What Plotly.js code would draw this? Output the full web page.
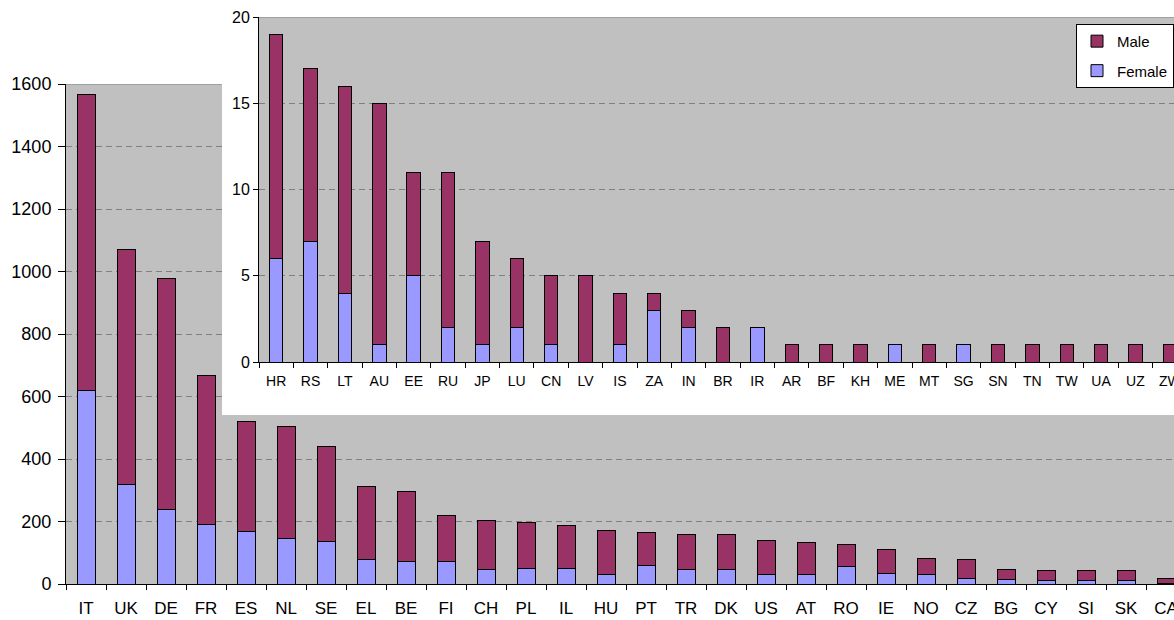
<!DOCTYPE html>
<html>
<head>
<meta charset="utf-8">
<script src="https://cdn.plot.ly/plotly-3.0.1.min.js"></script>
<style>
  html, body { margin: 0; padding: 0; overflow: hidden; background: #ffffff; width: 1174px; height: 620px; }
  #main { position: absolute; left: 0; top: 0; }
  #inset { position: absolute; left: 222px; top: 0; }
</style>
</head>
<body>
<div id="main"></div>
<div id="inset"></div>
<script>
// ---- Main chart data ----
const mainCats = ['IT','UK','DE','FR','ES','NL','SE','EL','BE','FI','CH','PL','IL','HU','PT','TR','DK','US','AT','RO','IE','NO','CZ','BG','CY','SI','SK','CA'];
const mainFemale = [619,320,237,190,167,147,136,78,73,73,46,51,51,30,60,46,46,30,30,57,35,30,18,15,10,10,10,3];
const mainMale = [946,751,740,477,353,358,305,233,224,145,157,146,136,141,106,114,114,109,104,69,74,53,60,31,32,32,32,15];
const mainTicks = [0,200,400,600,800,1000,1200,1400,1600];

// ---- Inset chart data ----
const insetCats = ['HR','RS','LT','AU','EE','RU','JP','LU','CN','LV','IS','ZA','IN','BR','IR','AR','BF','KH','ME','MT','SG','SN','TN','TW','UA','UZ','ZW'];
const insetFemale = [6,7,4,1,5,2,1,2,1,0,1,3,2,0,2,0,0,0,1,0,1,0,0,0,0,0,0];
const insetMale = [13,10,12,14,6,9,6,4,4,5,3,1,1,2,0,1,1,1,0,1,0,1,1,1,1,1,1];
const insetTicks = [0,5,10,15,20];

const seriesNames = ['Female','Male'];
const femaleColor = '#9999FF';
const maleColor = '#993366';
const fontFam = 'Liberation Sans, Arial, sans-serif';

function makeTraces(cats, female, male, showLegend) {
  return [
    {type:'bar', name:seriesNames[0], x:cats, y:female, legendrank:2, legendgroup:'f',
     marker:{color:femaleColor, line:{color:'#000000', width:1}}, showlegend:showLegend, hoverinfo:'x+y+name'},
    {type:'bar', name:seriesNames[1], x:cats, y:male, legendrank:1, legendgroup:'m',
     marker:{color:maleColor, line:{color:'#000000', width:1}}, showlegend:showLegend, hoverinfo:'x+y+name'}
  ];
}

// Main chart
const mainLayout = {
  width: 1200, height: 620,
  margin: {l:66, r:14, t:84, b:36},
  paper_bgcolor: '#ffffff',
  plot_bgcolor: '#C0C0C0',
  barmode: 'stack',
  bargap: 0.55,
  showlegend: false,
  font: {family: fontFam, size: 18, color: '#000000'},
  xaxis: {
    type: 'category', tickson: 'boundaries', ticks: 'outside', ticklen: 5, tickcolor: '#000000',
    showline: true, linecolor: '#000000', linewidth: 1, showgrid: false,
    range: [-0.5, mainCats.length - 0.5], fixedrange: true,
    ticklabelstandoff: 9,
    tickfont: {family: fontFam, size: 17, color: '#000000'}
  },
  yaxis: {
    range: [0, 1600], tickvals: mainTicks, ticks: 'outside', ticklen: 7, tickcolor: '#000000',
    showline: true, linecolor: '#000000', linewidth: 1,
    showgrid: true, gridcolor: '#808080', griddash: '6px,4px', gridwidth: 1,
    zeroline: false, fixedrange: true,
    ticklabelstandoff: 3,
    tickfont: {family: fontFam, size: 18, color: '#000000'}
  },
  shapes: [
    {type:'line', xref:'paper', yref:'y', x0:0, x1:1, y0:1600, y1:1600, line:{color:'#808080', width:1}}
  ]
};

Plotly.newPlot('main', makeTraces(mainCats, mainFemale, mainMale, false), mainLayout, {staticPlot: true, displayModeBar: false});

// Inset chart
const insetLayout = {
  width: 980, height: 415,
  margin: {l:37, r:15, t:17, b:53},
  paper_bgcolor: '#ffffff',
  plot_bgcolor: '#C0C0C0',
  barmode: 'stack',
  bargap: 0.61,
  showlegend: true,
  font: {family: fontFam, size: 15, color: '#000000'},
  legend: {
    x: 0.986, xanchor: 'right', y: 0.98, yanchor: 'top',
    bgcolor: '#ffffff', bordercolor: '#000000', borderwidth: 1,
    traceorder: 'grouped', tracegroupgap: 7,
    font: {family: fontFam, size: 15, color: '#000000'},
    itemwidth: 30
  },
  xaxis: {
    type: 'category', tickson: 'boundaries', ticks: 'outside', ticklen: 5, tickcolor: '#000000',
    showline: true, linecolor: '#000000', linewidth: 1, showgrid: false,
    range: [-0.5, insetCats.length - 0.5], fixedrange: true,
    ticklabelstandoff: 6,
    tickfont: {family: fontFam, size: 14, color: '#000000'}
  },
  yaxis: {
    range: [0, 20], tickvals: insetTicks, ticks: 'outside', ticklen: 5, tickcolor: '#000000',
    showline: true, linecolor: '#000000', linewidth: 1,
    showgrid: true, gridcolor: '#808080', griddash: '6px,4px', gridwidth: 1,
    zeroline: false, fixedrange: true,
    tickfont: {family: fontFam, size: 16, color: '#000000'}
  },
  shapes: [
    {type:'line', xref:'paper', yref:'y', x0:0, x1:1, y0:20, y1:20, line:{color:'#808080', width:1}}
  ]
};

Plotly.newPlot('inset', makeTraces(insetCats, insetFemale, insetMale, true), insetLayout, {staticPlot: true, displayModeBar: false});
</script>
</body>
</html>
